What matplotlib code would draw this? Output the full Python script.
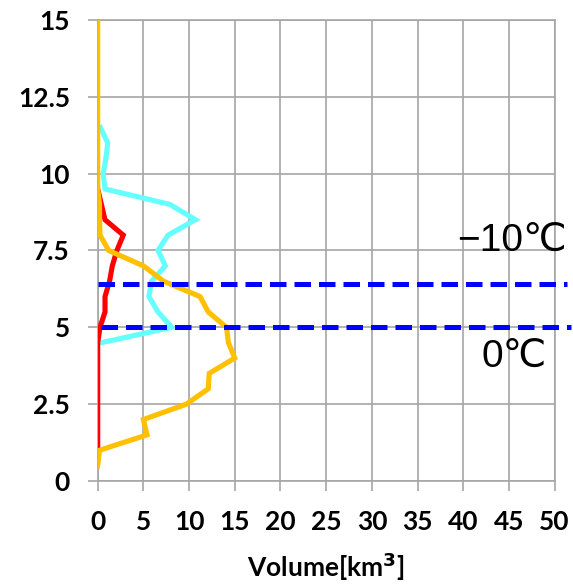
import matplotlib
matplotlib.use('Agg')
from matplotlib import pyplot as plt

plt.rcParams['font.family'] = ['Lato', 'DejaVu Sans']
plt.rcParams['font.weight'] = 'bold'

# height [km] (y) vs volume [km3] (x)
cyan_h = [11.5, 11.0, 10.5, 10.0, 9.5, 9.0, 8.5, 8.0, 7.5, 7.0, 6.5, 6.0, 5.5, 5.0, 4.5]
cyan_v = [0.3, 1.1, 0.9, 0.6, 0.8, 7.9, 10.7, 7.7, 6.6, 7.4, 5.9, 5.6, 6.6, 8.1, 0.4]

red_h = [9.5, 9.0, 8.5, 8.0, 7.5, 7.0, 6.5, 6.0, 5.5, 5.0, 4.5, 4.0, 3.5, 3.0, 2.5, 2.0, 1.5, 1.0]
red_v = [0.0, 0.4, 0.8, 2.8, 2.1, 1.6, 1.3, 0.8, 0.8, 0.25, 0, 0, 0, 0, 0, 0, 0, 0]

orange_h = [15.0, 9.5, 9.0, 8.5, 8.0, 7.5, 7.0, 6.5, 6.0, 5.5, 5.0, 4.5, 4.0,
            3.5, 3.0, 2.5, 2.0, 1.5, 1.0, 0.5]
orange_v = [0.0, 0.0, 0.2, 0.2, 0.25, 1.2, 5.0, 7.2, 11.2, 12.1, 14.1, 14.3, 15.0,
            12.2, 12.1, 9.7, 5.0, 5.4, 0.2, 0.0]

levels = [6.4, 5.0]
level_x0 = [0.0, 0.4]
level_x1 = [51.3, 51.8]
level_labels = ['\u221210\u2103', '0\u2103']
label_pos = [(45.3, 7.8), (45.6, 4.05)]

xticks = list(range(0, 51, 5))
xtick_labels = [str(v) for v in xticks]
yticks = [0, 2.5, 5, 7.5, 10, 12.5, 15]
ytick_labels = ['0', '2.5', '5', '7.5', '10', '12.5', '15']

fig = plt.figure(figsize=(5.73, 5.87), dpi=100)
ax = fig.add_axes([0.1705, 0.1806, 0.968 - 0.1705, 0.966 - 0.1806])

grid_c = '#a6a6a6'
ax.plot(cyan_v, cyan_h, color='#66ffff', lw=3.7, zorder=3, solid_joinstyle='miter')
ax.plot(red_v, red_h, color='#ff0000', lw=3.7, zorder=4, solid_joinstyle='miter')
ax.plot(orange_v, orange_h, color='#ffc000', lw=3.7, zorder=5, solid_joinstyle='miter')

for y, x0, x1 in zip(levels, level_x0, level_x1):
    ax.plot([x0, x1], [y, y], color='#0000ff', lw=3.6, ls=(0, (3.3, 1.6)),
            clip_on=False, zorder=6)

for lab, (x, y) in zip(level_labels, label_pos):
    ax.text(x, y, lab, ha='center', va='center', fontsize=28, fontweight='normal',
            family=['Liberation Sans', 'DejaVu Sans'], zorder=7)

ax.set_xlim(0, 50)
ax.set_ylim(0, 15)
ax.tick_params(axis='both', direction='out', length=7, width=1.2, color=grid_c)
ax.tick_params(axis='y', pad=13)
ax.tick_params(axis='x', pad=14)
ax.set_xticks(xticks, labels=xtick_labels, fontsize=19, fontweight='bold')
ax.set_yticks(yticks, labels=ytick_labels, fontsize=19, fontweight='bold')
ax.grid(True, color=grid_c, lw=1.2, zorder=0)
ax.set_axisbelow(True)
for s in ax.spines.values():
    s.set_color(grid_c)
    s.set_linewidth(1.2)
ax.set_xlabel('Volume[km$^\\mathbf{3}$]', fontsize=19, fontweight='bold', labelpad=12)

fig.savefig('out.png', dpi=100)
